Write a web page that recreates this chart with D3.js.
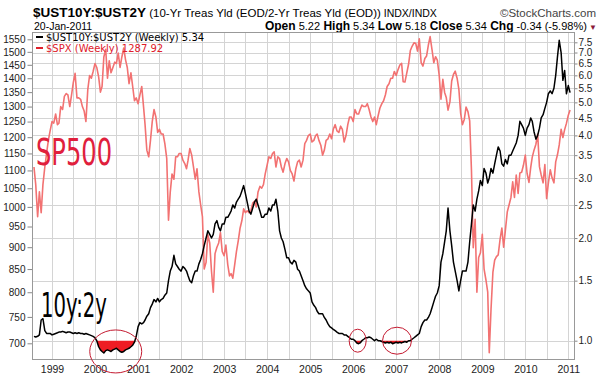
<!DOCTYPE html>
<html>
  <head>
    <meta charset="utf-8">
    <title>$UST10Y:$UST2Y vs $SPX</title>
    <script src="https://cdn.jsdelivr.net/npm/d3@7"></script>
    <style>
      body { margin: 0; background: #fff; }
      svg { display: block; font-family: Arial, "Liberation Sans", sans-serif; }
    </style>
  </head>

  <body>
    <svg id="chart" width="607" height="379"></svg>

    <script>
      // data: one sample on the 1st and 16th of each month, from 1 Aug 1998
      const spx = [
        1110, 1060, 975, 1040, 985, 1060, 1110, 1150, 1190, 1220,
        1250, 1245, 1275, 1240, 1245, 1300, 1290, 1335, 1345, 1340, 1300, 1340, 1385, 1418, 1330, 1330, 1325, 1300, 1285, 1250, 1360, 1410, 1400, 1425,
        1455, 1440, 1405, 1350, 1370, 1480, 1510, 1400, 1465, 1420, 1440, 1460, 1455, 1495, 1440, 1480, 1515, 1470, 1440, 1380, 1420, 1370, 1320, 1330,
        1310, 1340, 1370, 1300, 1240, 1160, 1140, 1190, 1250, 1290, 1265, 1215, 1225, 1210, 1210, 1180, 1135, 966, 1040, 1090, 1075, 1140, 1140, 1150,
        1150, 1130, 1120, 1105, 1130, 1165, 1145, 1110, 1075, 1105, 1040, 1005, 975, 850, 865, 930, 910, 845, 800, 885, 900, 910, 935, 890,
        880, 905, 860, 835, 840, 830, 860, 890, 915, 945, 965, 995, 985, 990, 985, 990, 1010, 1015, 1000, 1040, 1055, 1050, 1060, 1090,
        1115, 1140, 1135, 1150, 1155, 1110, 1140, 1135, 1110, 1095, 1120, 1135, 1125, 1100, 1090, 1070, 1105, 1125, 1130, 1110, 1130, 1180, 1190, 1205,
        1210, 1185, 1190, 1205, 1210, 1190, 1175, 1145, 1160, 1190, 1195, 1210, 1195, 1225, 1240, 1220, 1215, 1235, 1225, 1185, 1205, 1240, 1265, 1265,
        1250, 1290, 1275, 1275, 1290, 1305, 1300, 1300, 1310, 1290, 1265, 1250, 1265, 1240, 1270, 1295, 1310, 1320, 1340, 1370, 1380, 1400, 1400, 1425,
        1410, 1431, 1449, 1456, 1387, 1386, 1420, 1452, 1505, 1522, 1536, 1533, 1503, 1552, 1458, 1445, 1474, 1484, 1527, 1561, 1509, 1458, 1481, 1468,
        1411, 1325, 1396, 1349, 1331, 1288, 1316, 1390, 1414, 1426, 1400, 1360, 1278, 1240, 1257, 1298, 1283, 1252, 1099, 899, 968, 800, 876, 887,
        931, 850, 826, 800, 683, 765, 843, 870, 878, 882, 919, 946, 900, 941, 987, 1005, 1025, 1068, 1025, 1087, 1036, 1093, 1095, 1115,
        1145, 1092, 1066, 1109, 1139, 1160, 1178, 1210, 1111, 1087, 1065, 1117, 1022, 1065, 1102, 1079, 1065, 1125, 1146, 1176, 1225, 1199, 1224, 1244,
        1271, 1288
      ];
      const ratio = [
        1.03, 1.025, 1.03, 1.04, 1.15, 1.16, 1.07, 1.05, 1.05, 1.05,
        1.04, 1.045, 1.05, 1.055, 1.06, 1.06, 1.065, 1.06, 1.055, 1.06, 1.06, 1.055, 1.05, 1.055, 1.05, 1.055, 1.05, 1.05, 1.045, 1.05, 1.045, 1.04, 1.035, 1.03,
        1.02, 1.0, 0.96, 0.94, 0.93, 0.92, 0.935, 0.94, 0.935, 0.93, 0.94, 0.945, 0.95, 0.94, 0.93, 0.925, 0.93, 0.94, 0.945, 0.95, 0.96, 0.97, 0.99, 1.03,
        1.1, 1.13, 1.12, 1.13, 1.15, 1.18, 1.2, 1.25, 1.28, 1.32, 1.3, 1.33, 1.3, 1.32, 1.33, 1.36, 1.38, 1.5, 1.6, 1.65, 1.78, 1.68, 1.65, 1.62,
        1.6, 1.65, 1.63, 1.6, 1.55, 1.5, 1.48, 1.55, 1.6, 1.6, 1.68, 1.73, 1.8, 1.9, 2.0, 2.1, 2.05, 2.0, 2.05, 2.2, 2.25, 2.15, 2.1, 2.2,
        2.2, 2.3, 2.3, 2.35, 2.4, 2.5, 2.45, 2.55, 2.6, 2.65, 2.75, 2.85, 2.7, 2.55, 2.4, 2.35, 2.45, 2.55, 2.6, 2.5, 2.4, 2.3, 2.3, 2.35,
        2.35, 2.45, 2.4, 2.5, 2.5, 2.6, 2.4, 2.1, 2.0, 1.95, 1.85, 1.75, 1.75, 1.7, 1.68, 1.72, 1.7, 1.62, 1.6, 1.55, 1.5, 1.45, 1.42, 1.4,
        1.38, 1.3, 1.27, 1.25, 1.22, 1.2, 1.2, 1.2, 1.17, 1.15, 1.12, 1.1, 1.09, 1.08, 1.07, 1.06, 1.05, 1.05, 1.05, 1.04, 1.04, 1.03, 1.02, 1.01,
        1.01, 1.0, 0.985, 0.98, 0.985, 1.0, 1.01, 1.02, 1.02, 1.025, 1.02, 1.01, 1.0, 1.01, 1.0, 1.0, 0.995, 0.99, 0.985, 0.99, 0.985, 0.99, 0.98, 0.985,
        0.99, 0.985, 0.99, 0.985, 0.99, 0.995, 0.99, 1.0, 1.0, 1.01, 1.02, 1.03, 1.04, 1.05, 1.1, 1.13, 1.15, 1.15, 1.17, 1.2, 1.25, 1.3, 1.35, 1.38,
        1.45, 1.7, 1.8, 1.95, 2.1, 2.45, 2.1, 1.9, 1.7, 1.6, 1.5, 1.4, 1.5, 1.6, 1.6, 1.6, 1.7, 1.95, 2.2, 2.5, 2.4, 2.6, 2.75, 2.95,
        2.85, 3.2, 3.1, 2.9, 3.0, 3.2, 3.1, 3.3, 3.5, 3.7, 3.6, 3.3, 3.25, 3.4, 3.3, 3.5, 3.5, 3.6, 3.7, 3.8, 4.0, 4.4, 4.3, 4.2,
        4.0, 4.2, 4.3, 4.5, 4.4, 4.1, 3.9, 4.0, 4.2, 4.5, 4.6, 4.8, 5.0, 5.3, 5.4, 5.3, 5.5, 6.0, 6.8, 7.6, 7.0, 5.8, 6.2, 5.3,
        5.6, 5.34
      ];
      const leftTicks = [700, 750, 800, 850, 900, 950, 1000, 1050, 1100, 1150, 1200, 1250, 1300, 1350, 1400, 1450, 1500, 1550];
      const rightTicks = [1.0, 1.5, 2.0, 2.5, 3.0, 3.5, 4.0, 4.5, 5.0, 5.5, 6.0, 6.5, 7.0, 7.5];
      const years = [1999, 2000, 2001, 2002, 2003, 2004, 2005, 2006, 2007, 2008, 2009, 2010, 2011];

      // dates for the samples
      const dates = spx.map((d, i) => new Date(1998, 7 + Math.floor(i / 2), i % 2 ? 16 : 1));
      const rows = dates.map((d, i) => ({ date: d, spx: spx[i], r: ratio[i] }));

      // layout
      const svg = d3.select("#chart");
      const pL = 32.5, pR = 574.5, pT = 32.5, pB = 359.5;

      const x = d3.scaleTime()
        .domain([new Date(1999, 0, 1), new Date(2011, 0, 1)])
        .range([52, 568.3]);
      const yL = d3.scaleLog().domain([700, 1550]).range([343.3, 39.3]);
      const yR = d3.scaleLog().domain([1, 7.5]).range([340.7, 42.3]);

      svg.append("defs").append("clipPath")
          .attr("id", "plot")
        .append("rect")
          .attr("x", pL).attr("y", pT)
          .attr("width", pR - pL).attr("height", pB - pT);

      // header
      const head = svg.append("text").attr("x", 33).attr("y", 17);
      head.append("tspan").text("$UST10Y:$UST2Y")
        .style("font-weight", "bold").style("font-size", "13.5px");
      head.append("tspan").text(" (10-Yr Treas Yld (EOD/2-Yr Treas Yld (EOD))")
        .style("font-size", "11.5px");
      head.append("tspan").text("  INDX/INDX")
        .style("font-size", "10.5px");
      svg.append("text")
        .attr("x", 596).attr("y", 17)
        .attr("text-anchor", "end")
        .style("font-size", "11.5px").style("fill", "#444")
        .text("\u00a9StockCharts.com");

      svg.append("text")
        .attr("x", 34).attr("y", 30)
        .style("font-size", "10.5px")
        .text("20-Jan-2011");

      const quote = svg.append("text")
        .attr("x", 597).attr("y", 30)
        .attr("text-anchor", "end")
        .style("font-size", "11px");
      [["Open", "5.22"], ["High", "5.34"], ["Low", "5.18"], ["Close", "5.34"], ["Chg", "-0.34 (-5.98%)"]]
        .forEach(([k, v], i) => {
          quote.append("tspan").text((i ? "  " : "") + k).style("font-weight", "bold").style("font-size", "12px");
          quote.append("tspan").text(" " + v);
        });
      quote.append("tspan").text(" \u25BC").style("fill", "#8b1a3a").style("font-size", "8px");

      // grid
      const grid = svg.append("g");
      const halfYears = d3.timeMonth.every(6).range(x.invert(pL), x.invert(pR));
      grid.selectAll(".vg")
        .data(halfYears)
        .join("line")
          .attr("x1", d => Math.round(x(d)) + 0.5).attr("x2", d => Math.round(x(d)) + 0.5)
          .attr("y1", pT).attr("y2", pB)
          .style("stroke", "#d4d4d4");
      grid.selectAll(".hg")
        .data(rightTicks)
        .join("line")
          .attr("x1", pL).attr("x2", pR)
          .attr("y1", d => Math.round(yR(d)) + 0.5).attr("y2", d => Math.round(yR(d)) + 0.5)
          .style("stroke", "#d4d4d4");

      // axes
      const axL = svg.append("g")
        .attr("transform", `translate(${pL},0)`)
        .call(d3.axisLeft(yL).tickValues(leftTicks).tickFormat(d3.format("d")).tickSize(5).tickPadding(2));
      const axR = svg.append("g")
        .attr("transform", `translate(${pR},0)`)
        .call(d3.axisRight(yR).tickValues(rightTicks).tickFormat(d3.format(".1f")).tickSize(3).tickPadding(1));
      const axB = svg.append("g")
        .attr("transform", `translate(0,${pB})`)
        .call(d3.axisBottom(x).tickValues(years.map(y => new Date(y, 0, 1))).tickFormat(d3.timeFormat("%Y")).tickSize(0).tickPadding(6));
      [axL, axR, axB].forEach(a => {
        a.select(".domain").remove();
        a.selectAll("text").style("font-size", "10px").style("fill", "#222").style("font-family", "Arial, 'Liberation Sans', sans-serif");
        a.selectAll("line").style("stroke", "#888");
      });
      axB.selectAll("text").style("font-size", "10.5px");

      // plot
      const plot = svg.append("g").attr("clip-path", "url(#plot)");

      plot.append("path")
        .datum(rows)
        .attr("d", d3.line().x(d => x(d.date)).y(d => yL(d.spx)))
        .style("fill", "none")
        .style("stroke", "#f27272")
        .style("stroke-width", 1.6)
        .style("stroke-linejoin", "round");

      // inverted curve shading
      plot.append("path")
        .datum(rows)
        .attr("d", d3.area().x(d => x(d.date)).y0(yR(1)).y1(d => yR(Math.min(d.r, 1))))
        .style("fill", "#ee1c24");

      plot.append("path")
        .datum(rows)
        .attr("d", d3.line().x(d => x(d.date)).y(d => yR(d.r)))
        .style("fill", "none")
        .style("stroke", "#000")
        .style("stroke-width", 1.5)
        .style("stroke-linejoin", "round");

      // frame
      svg.append("rect")
        .attr("x", pL).attr("y", pT)
        .attr("width", pR - pL).attr("height", pB - pT)
        .style("fill", "none").style("stroke", "#999");

      // legend
      const legend = [["$UST10Y:$UST2Y (Weekly) 5.34", "#000"], ["$SPX (Weekly) 1287.92", "#e0202a"]];
      legend.forEach(([t, c], i) => {
        svg.append("line")
          .attr("x1", 36).attr("x2", 43)
          .attr("y1", 37 + i * 11).attr("y2", 37 + i * 11)
          .style("stroke", c).style("stroke-width", 2);
        svg.append("text")
          .attr("x", 46).attr("y", 41 + i * 11)
          .style("font-family", "'DejaVu Sans', Verdana, sans-serif")
          .style("font-size", "10px")
          .style("fill", c)
          .text(t);
      });

      // annotations
      svg.append("text")
        .attr("x", 36).attr("y", 165)
        .attr("textLength", 76).attr("lengthAdjust", "spacingAndGlyphs")
        .style("font-family", "'DejaVu Sans', sans-serif")
        .style("font-size", "38px")
        .style("fill", "#e0203c")
        .text("SP500");
      svg.append("text")
        .attr("x", 41).attr("y", 317)
        .attr("textLength", 66).attr("lengthAdjust", "spacingAndGlyphs")
        .style("font-family", "'DejaVu Sans', sans-serif")
        .style("font-size", "34px")
        .style("fill", "#000")
        .text("10y:2y");

      const rings = [
        { date: new Date(2000, 5, 25), r: 0.93, rx: 26, ry: 21.5 },
        { date: new Date(2006, 1, 8), r: 1.0, rx: 8.5, ry: 11.5 },
        { date: new Date(2007, 0, 8), r: 1.0, rx: 14.5, ry: 13.5 }
      ];
      svg.selectAll(".ring")
        .data(rings)
        .join("ellipse")
          .attr("cx", d => x(d.date)).attr("cy", d => yR(d.r))
          .attr("rx", d => d.rx).attr("ry", d => d.ry)
          .style("fill", "none")
          .style("stroke", "#c41a30")
          .style("stroke-width", 1);
    </script>
  </body>
</html>
